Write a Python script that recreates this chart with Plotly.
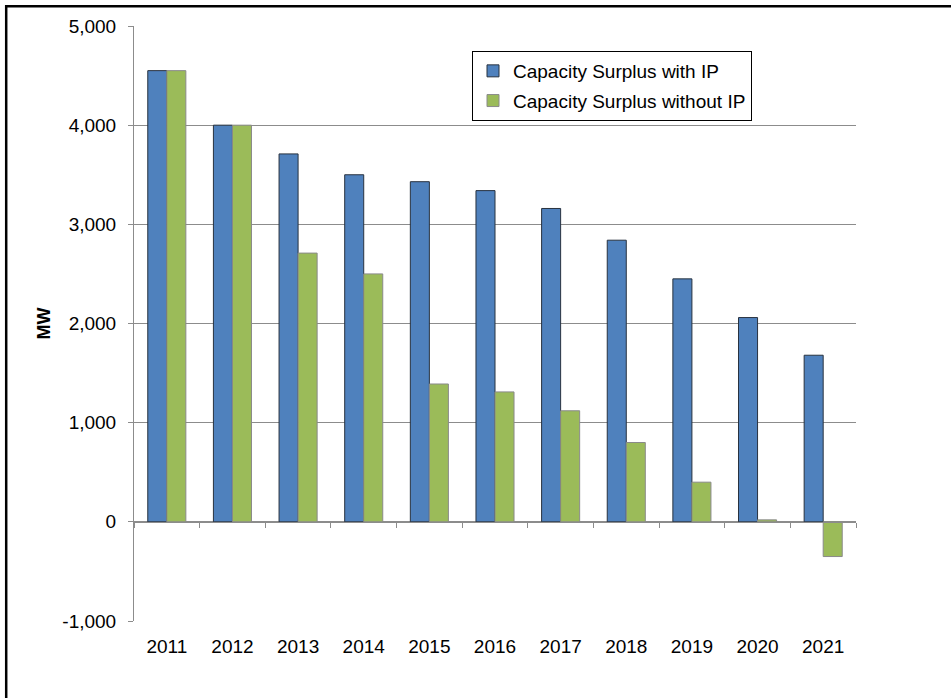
import plotly.graph_objects as go

# Annual capacity surplus (MW), with and without IP
years = ["2011", "2012", "2013", "2014", "2015", "2016", "2017", "2018", "2019", "2020", "2021"]
surplus_with_ip = [4550, 4000, 3710, 3500, 3430, 3340, 3160, 2840, 2450, 2060, 1680]
surplus_without_ip = [4550, 4000, 2710, 2500, 1390, 1310, 1120, 800, 400, 20, -350]

series_names = ["Capacity Surplus with IP", "Capacity Surplus without IP"]
y_ticks = [-1000, 0, 1000, 2000, 3000, 4000, 5000]
y_tick_labels = [f"{v:,}" for v in y_ticks]

FONT = "Arial, Liberation Sans, sans-serif"
AXIS_GRAY = "#8c8c8c"
TEXT_SIZE = 19

W, H = 951, 698
L, R, T, B = 134, 95, 26, 77
plot_w = W - L - R
plot_h = H - T - B

fig = go.Figure()
fig.add_trace(go.Bar(
    x=years, y=surplus_with_ip, name=series_names[0], legendgroup="with",
    marker=dict(color="#4F81BD", line=dict(color="#28323f", width=1)),
))
fig.add_trace(go.Bar(
    x=years, y=surplus_without_ip, name=series_names[1], legendgroup="without",
    marker=dict(color="#9BBB59", line=dict(color="#8a8a8a", width=1)),
))

y_min, y_max = y_ticks[0], y_ticks[-1]
zero_pos = (0 - y_min) / (y_max - y_min)

# pixel -> paper coordinate helpers for the frame and legend placement
px = lambda v: (v - L) / plot_w
py = lambda v: (H - B - v) / plot_h

fig.update_layout(
    width=W, height=H,
    margin=dict(l=L, r=R, t=T, b=B, autoexpand=False),
    paper_bgcolor="white", plot_bgcolor="white",
    font=dict(family=FONT, size=TEXT_SIZE, color="#000000"),
    barmode="group", bargap=0.42, bargroupgap=0,
    showlegend=True,
    legend=dict(
        x=px(472), y=py(51), xanchor="left", yanchor="top",
        bgcolor="white", bordercolor="#000000", borderwidth=1,
        font=dict(family=FONT, size=TEXT_SIZE, color="#000000"),
        tracegroupgap=2, itemwidth=30,
    ),
    xaxis=dict(
        type="category", anchor="free", position=zero_pos,
        showline=True, linecolor=AXIS_GRAY, linewidth=1,
        ticks="outside", ticklen=5, tickcolor=AXIS_GRAY, tickson="boundaries",
        showgrid=False, ticklabelstandoff=107,
        tickfont=dict(family=FONT, size=TEXT_SIZE, color="#000000"),
        range=[-0.5, len(years) - 0.5],
    ),
    yaxis=dict(
        range=[y_min, y_max], tickvals=y_ticks, ticktext=y_tick_labels,
        showline=True, linecolor=AXIS_GRAY, linewidth=1,
        ticks="outside", ticklen=5, tickcolor=AXIS_GRAY,
        showgrid=True, gridcolor=AXIS_GRAY, gridwidth=1,
        zeroline=False, ticklabelstandoff=8,
        tickfont=dict(family=FONT, size=TEXT_SIZE, color="#000000"),
        title=dict(text="<b>MW</b>", standoff=7,
                   font=dict(family=FONT, size=18, color="#000000")),
    ),
    shapes=[dict(
        type="rect", xref="paper", yref="paper",
        x0=px(6.2), x1=px(W + 20), y0=py(H + 20), y1=py(6.2),
        line=dict(color="#000000", width=2.5), fillcolor="rgba(0,0,0,0)",
        layer="above",
    )],
)

fig.write_html("out.html")
